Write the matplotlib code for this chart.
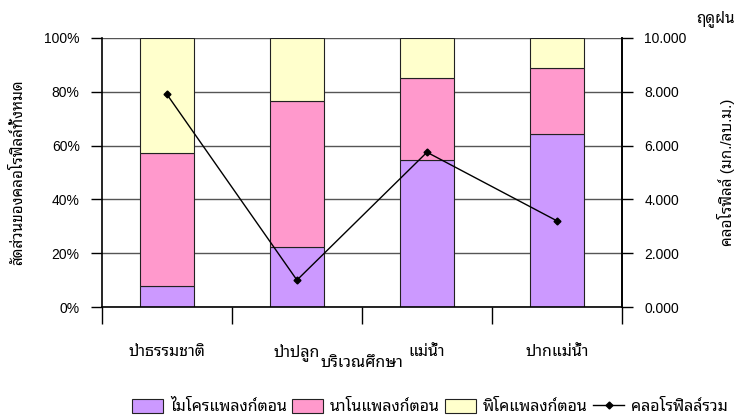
import matplotlib
matplotlib.use("Agg")
import matplotlib.pyplot as plt
import numpy as np

plt.rcParams['font.family'] = ['Liberation Sans', 'Noto Sans Thai Looped', 'DejaVu Sans']

# study areas and plankton size-class share of total chlorophyll (%)
sites = ['ป่าธรรมชาติ', 'ป่าปลูก', 'แม่น้ำ', 'ปากแม่น้ำ']
micro = [7.8, 22.3, 54.6, 64.3]
nano = [49.4, 54.3, 30.5, 24.5]
pico = [42.8, 23.4, 14.9, 11.2]
# total chlorophyll (mg/m3)
chl_total = [7.9, 1.0, 5.75, 3.2]

x = np.arange(len(sites))

fig = plt.figure(figsize=(7.44, 4.16), dpi=100)
ax = fig.add_axes([0.137, 0.262, 0.699, 0.647])

w = 0.42
ax.bar(x, micro, w, color='#CC99FF', edgecolor='#222222', lw=0.8, label='ไมโครแพลงก์ตอน', zorder=2)
ax.bar(x, nano, w, bottom=micro, color='#FF99CC', edgecolor='#222222', lw=0.8, label='นาโนแพลงก์ตอน', zorder=2)
bottom2 = np.array(micro) + np.array(nano)
ax.bar(x, pico, w, bottom=bottom2, color='#FFFFCC', edgecolor='#222222', lw=0.8, label='พิโคแพลงก์ตอน', zorder=2)

ax.set_xlim(-0.5, len(sites) - 0.5)
ax.set_ylim(0, 100)
ax.set_yticks(np.arange(0, 101, 20))
ax.set_yticklabels([f'{v}%' for v in range(0, 101, 20)])
ax.yaxis.grid(True, color='#555555', lw=1.0, zorder=0)
ax.set_axisbelow(True)

ax.set_xticks(x)
ax.set_xticklabels(sites)
for lbl in ax.get_xticklabels():
    lbl.set_va('baseline')
ax.set_xticks(np.arange(-0.5, len(sites), 1), minor=True)
ax.tick_params(axis='x', which='major', length=0, pad=35, labelsize=11.5)
ax.tick_params(axis='x', which='minor', length=12, width=1, direction='out')
ax.tick_params(axis='y', length=8, width=1, labelsize=10, pad=8)
ax.spines['top'].set_visible(False)
for s in ['left', 'bottom', 'right']:
    ax.spines[s].set_linewidth(1.2)

ax.set_ylabel('สัดส่วนของคลอโรฟิลล์ทั้งหมด', fontsize=11, labelpad=14)
ax.set_xlabel('บริเวณศึกษา', fontsize=11.5, labelpad=-4)

ax2 = ax.twinx()
ax2.plot(x, chl_total, color='black', lw=1, marker='D', markersize=3.5, label='คลอโรฟิลล์รวม')
ax2.set_ylim(0, 10)
ax2.set_yticks(np.arange(0, 10.1, 2))
ax2.set_yticklabels([f'{v:.3f}' for v in np.arange(0, 10.1, 2)])
ax2.tick_params(axis='y', length=8, width=1, labelsize=10, pad=8)
for s in ['top', 'left', 'bottom']:
    ax2.spines[s].set_visible(False)
ax2.spines['right'].set_linewidth(1.2)
ax2.set_ylabel('คลอโรฟิลล์ (มก./ลบ.ม.)', fontsize=11, labelpad=22)
fig.text(0.962, 0.955, 'ฤดูฝน', fontsize=11, ha='center', va='center')

h1, l1 = ax.get_legend_handles_labels()
h2, l2 = ax2.get_legend_handles_labels()
fig.legend(h1 + h2, l1 + l2, loc='lower center', bbox_to_anchor=(0.578, -0.03), ncol=4,
           frameon=False, fontsize=11.5, handlelength=1.9, handleheight=0.95,
           columnspacing=0.35, handletextpad=0.45)

fig.savefig('out.png')
